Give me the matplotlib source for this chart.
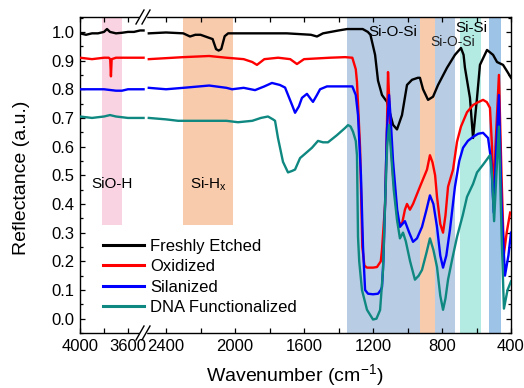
import matplotlib
matplotlib.use("Agg")
import matplotlib.pyplot as plt
from matplotlib.lines import Line2D
import numpy as np

plt.rcParams['font.family'] = ['Liberation Sans', 'DejaVu Sans']
plt.rcParams['mathtext.fontset'] = 'custom'
plt.rcParams['mathtext.rm'] = 'Liberation Sans'

labels = ["Freshly Etched", "Oxidized", "Silanized", "DNA Functionalized"]
colors = ["#000000", "#ff0000", "#0000ff", "#0e8880"]

# ---- left segment (4000 - 3470 cm-1) ----
left_wn = {
    "black": [4000, 3950, 3900, 3850, 3800, 3775, 3750, 3700, 3650, 3600, 3550, 3500, 3470],
    "red":   [4000, 3900, 3800, 3760, 3748, 3742, 3736, 3700, 3600, 3470],
    "blue":  [4000, 3900, 3800, 3700, 3650, 3600, 3470],
    "teal":  [4000, 3900, 3800, 3750, 3700, 3600, 3470],
}
left_val = {
    "black": [0.995, 0.99, 0.995, 0.995, 1.0, 1.01, 1.0, 0.995, 0.997, 1.0, 1.0, 1.005, 1.005],
    "red":   [0.91, 0.905, 0.91, 0.91, 0.905, 0.845, 0.905, 0.91, 0.91, 0.91],
    "blue":  [0.80, 0.80, 0.80, 0.795, 0.795, 0.80, 0.80],
    "teal":  [0.705, 0.70, 0.705, 0.71, 0.705, 0.70, 0.70],
}

# ---- right segment (2500 - 400 cm-1) ----
black_wn = [2500, 2400, 2300, 2261, 2230, 2200, 2130, 2110, 2095, 2080, 2060, 2040, 1900, 1700, 1560,
            1525, 1490, 1400, 1350, 1260, 1230, 1215, 1188, 1171, 1148, 1119, 1084, 1061, 1032, 1003,
            974, 940, 928, 910, 881, 852, 823, 771, 725, 690, 675, 667, 638, 620, 597, 580, 539, 504,
            481, 446, 420, 400]
black_val = [0.995, 0.998, 0.995, 0.984, 0.99, 0.99, 0.975, 0.94, 0.935, 0.94, 0.985, 0.995, 0.995, 0.995, 0.99,
             0.984, 0.995, 1.005, 1.01, 1.01, 1.0, 0.99, 0.92, 0.83, 0.78, 0.756, 0.676, 0.66, 0.71, 0.815,
             0.833, 0.84, 0.84, 0.80, 0.763, 0.774, 0.815, 0.875, 0.92, 0.944, 0.92, 0.875, 0.77, 0.63, 0.77,
             0.885, 0.937, 0.92, 0.895, 0.885, 0.86, 0.84]

red_wn = [2500, 2300, 2150, 2050, 1950, 1900, 1873, 1830, 1750, 1680, 1641, 1600, 1450, 1362, 1320, 1300,
          1293, 1275, 1262, 1250, 1235, 1200, 1177, 1155, 1148, 1130, 1120, 1113, 1105, 1095, 1084, 1055,
          1032, 1015, 1003, 986, 968, 928, 887, 870, 855, 840, 829, 810, 794, 780, 765, 736, 713, 690, 655,
          620, 597, 562, 540, 522, 510, 500, 490, 470, 455, 441, 425, 405]
red_val = [0.905, 0.912, 0.916, 0.91, 0.905, 0.895, 0.885, 0.905, 0.91, 0.905, 0.888, 0.905, 0.91, 0.912, 0.91, 0.87,
           0.826, 0.596, 0.25, 0.185, 0.178, 0.178, 0.18, 0.2, 0.24, 0.40, 0.65, 0.86, 0.75, 0.6, 0.50, 0.335,
           0.33, 0.38, 0.40, 0.38, 0.40, 0.46, 0.52, 0.57, 0.545, 0.50, 0.425, 0.33, 0.30, 0.36, 0.46, 0.52, 0.617, 0.67, 0.72,
           0.745, 0.753, 0.763, 0.755, 0.735, 0.60, 0.40, 0.60, 0.85, 0.50, 0.226, 0.30, 0.37]

blue_wn = [2500, 2400, 2300, 2150, 2050, 2017, 1950, 1884, 1830, 1786, 1740, 1710, 1670, 1652, 1630, 1612,
           1583, 1560, 1548, 1525, 1507, 1467, 1362, 1320, 1300, 1287, 1270, 1258, 1246, 1229, 1200, 1171,
           1155, 1148, 1140, 1130, 1120, 1107, 1098, 1084, 1060, 1044, 1030, 1015, 990, 968, 945, 916, 890,
           870, 850, 829, 810, 794, 775, 754, 725, 700, 678, 650, 620, 590, 562, 533, 515, 500, 485, 470,
           455, 435, 415, 400]
blue_val = [0.805, 0.80, 0.805, 0.813, 0.805, 0.80, 0.805, 0.797, 0.81, 0.822, 0.815, 0.806, 0.746, 0.718, 0.74, 0.77,
            0.784, 0.765, 0.756, 0.78, 0.80, 0.81, 0.81, 0.81, 0.78, 0.71, 0.50, 0.25, 0.10, 0.087, 0.085, 0.087,
            0.10, 0.11, 0.2, 0.40, 0.65, 0.78, 0.70, 0.55, 0.38, 0.32, 0.33, 0.34, 0.30, 0.268, 0.28, 0.32, 0.38,
            0.43, 0.40, 0.32, 0.22, 0.178, 0.22, 0.31, 0.46, 0.55, 0.596, 0.62, 0.634, 0.645, 0.648, 0.63, 0.55, 0.37, 0.60, 0.78,
            0.40, 0.15, 0.22, 0.30]

teal_wn = [2500, 2400, 2330, 2200, 2050, 1983, 1900, 1850, 1809, 1780, 1768, 1751, 1722, 1693, 1670, 1652,
           1623, 1594, 1554, 1519, 1490, 1461, 1409, 1362, 1345, 1330, 1316, 1300, 1293, 1287, 1280, 1264,
           1235, 1200, 1180, 1159, 1142, 1130, 1118, 1107, 1098, 1080, 1061, 1044, 1026, 1010, 985, 957, 935,
           916, 890, 870, 850, 829, 810, 794, 780, 765, 740, 713, 680, 655, 620, 597, 562, 540, 522, 510, 498,
           485, 470, 455, 441, 420, 400]
teal_val = [0.70, 0.695, 0.69, 0.69, 0.69, 0.685, 0.69, 0.70, 0.705, 0.695, 0.69, 0.63, 0.547, 0.51, 0.515, 0.52,
            0.56, 0.575, 0.596, 0.62, 0.615, 0.615, 0.64, 0.665, 0.675, 0.67, 0.652, 0.62, 0.57, 0.285, 0.2, 0.10,
            0.031, -0.003, 0.0, 0.03, 0.17, 0.40, 0.6, 0.675, 0.6, 0.45, 0.345, 0.28, 0.30, 0.27, 0.2, 0.136, 0.15,
            0.17, 0.23, 0.28, 0.24, 0.18, 0.08, 0.031, 0.07, 0.136, 0.21, 0.285, 0.36, 0.425, 0.47, 0.51, 0.537, 0.555, 0.57, 0.50, 0.34,
            0.50, 0.67, 0.30, 0.035, 0.10, 0.13]

right_wn = [black_wn, red_wn, blue_wn, teal_wn]
right_val = [black_val, red_val, blue_val, teal_val]
keys = ["black", "red", "blue", "teal"]

# bands: (start, end, colour, full height?)
band_left = [(3820, 3650, "#f9d3e1")]
band_right = [(2300, 2012, "#f8cbad", False),
              (1351, 928, "#b8cce4", True),
              (928, 841, "#f8cbad", True),
              (841, 725, "#b8cce4", True),
              (696, 574, "#b3ebe3", True),
              (528, 458, "#9dc3e6", True)]

W, H = 524, 388
fig = plt.figure(figsize=(W / 100, H / 100), dpi=100)
x0, x_brk, x1 = 80, 145, 511
y_top, y_bot = 17, 333
bot = (H - y_bot) / H
hgt = (y_bot - y_top) / H
ax1 = fig.add_axes([x0 / W, bot, (x_brk - x0) / W, hgt])
ax2 = fig.add_axes([x_brk / W, bot, (x1 - x_brk) / W, hgt])

ylim = (-0.05, 1.052)
ax1.set_xlim(4000, 3458)
ax2.set_xlim(2522, 400)
for ax in (ax1, ax2):
    ax.set_ylim(*ylim)

for (a, b, c) in band_left:
    ax1.axvspan(a, b, ymin=(0.325 - ylim[0]) / (ylim[1] - ylim[0]), ymax=1, color=c, lw=0, zorder=0)
for (a, b, c, full) in band_right:
    ymin = 0 if full else (0.325 - ylim[0]) / (ylim[1] - ylim[0])
    ax2.axvspan(a, b, ymin=ymin, ymax=1, color=c, lw=0, zorder=0)

for k, col in zip(keys, colors):
    ax1.plot(left_wn[k], left_val[k], color=col, lw=1.7, zorder=3)
for wn, val, col in zip(right_wn, right_val, colors):
    ax2.plot(wn, val, color=col, lw=1.7, zorder=3)

# spines and ticks
ax1.spines['right'].set_visible(False)
ax2.spines['left'].set_visible(False)
for ax in (ax1, ax2):
    for s in ax.spines.values():
        s.set_linewidth(1.0)
    ax.tick_params(which='both', direction='in', top=True, labelsize=12, pad=4)
    ax.tick_params(which='major', length=3.5, width=0.9)
    ax.tick_params(which='minor', length=3.5, width=0.9)

ax1.set_xticks([4000, 3600])
ax1.set_xticks([3800], minor=True)
ax1.set_yticks(np.round(np.arange(0, 1.01, 0.1), 1))
ax1.set_yticks(np.round(np.arange(-0.05, 1.06, 0.05), 2), minor=True)
ax1.tick_params(axis='y', which='minor', length=2)
ax1.tick_params(axis='y', right=False, which='both')
ax1.set_yticklabels([f"{v:.1f}" for v in np.arange(0, 1.01, 0.1)])

ax2.set_xticks([2400, 2000, 1600, 1200, 800, 400])
ax2.set_xticks([2200, 1800, 1400, 1000, 600], minor=True)
ax2.set_yticks(np.round(np.arange(0, 1.01, 0.1), 1))
ax2.set_yticks(np.round(np.arange(-0.05, 1.06, 0.05), 2), minor=True)
ax2.tick_params(axis='y', which='both', left=False, right=True, labelleft=False)
ax2.tick_params(axis='y', which='minor', length=2)

# annotations
ax1.text(3733, 0.47, "SiO-H", fontsize=11, ha='center', va='center')
ax2.text(2155, 0.47, r"Si-H$_\mathregular{x}$", fontsize=11, ha='center', va='center')
ax2.text(1084, 1.0, "Si-O-Si", fontsize=11, ha='center', va='center', zorder=5)
ax2.text(736, 0.965, "Si-O-Si", fontsize=10, ha='center', va='center', color='#222222', zorder=5)
ax2.text(632, 1.013, "Si-Si", fontsize=11, ha='center', va='center', zorder=5)

# break marks
def fx(px):
    return px / W
def fy(py):
    return 1 - py / H
for yc in (y_top, y_bot):
    fig.patches.append(plt.Rectangle((fx(140), fy(yc + 1.5)), 6 / W, 3 / H, transform=fig.transFigure,
                                     color='white', zorder=10))
    for dx in (0, 6):
        fig.lines.append(Line2D([fx(136 + dx), fx(144 + dx)], [fy(yc + 7), fy(yc - 7)],
                                transform=fig.transFigure, color='black', lw=1.0, zorder=11))

# legend
handles = [Line2D([], [], color=c, lw=2.2) for c in colors]
fig.legend(handles, labels, loc='upper left', bbox_to_anchor=(96 / W, 1 - 232 / H), frameon=False,
           fontsize=12, handlelength=2.5, handletextpad=0.35, labelspacing=0.33, borderaxespad=0)

fig.text(295 / W, 1 - 382 / H, r"Wavenumber (cm$^{\mathregular{-1}}$)", fontsize=14, ha='center', va='baseline')
fig.text(22 / W, 1 - 178 / H, "Reflectance (a.u.)", fontsize=14, ha='center', va='center', rotation=90)

fig.savefig("out.png", dpi=100)
